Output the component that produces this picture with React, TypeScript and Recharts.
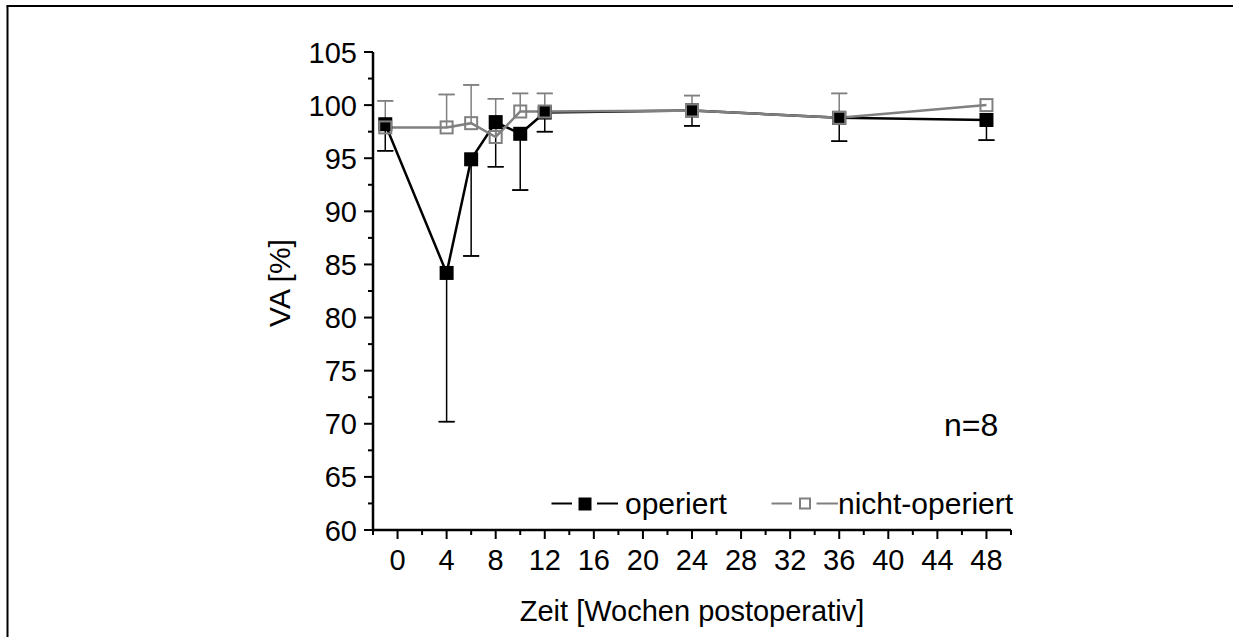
import React from 'react';
import { LineChart, Line, XAxis, YAxis, ErrorBar } from 'recharts';

const weeks = [-1, 4, 6, 8, 10, 12, 24, 36, 48];
const operiert = [98.2, 84.2, 94.9, 98.4, 97.3, 99.3, 99.5, 98.8, 98.6];
const operiertSD = [2.5, 14.0, 9.1, 4.2, 5.3, 1.8, 1.45, 2.2, 1.9];
const nichtOperiert = [97.9, 97.9, 98.3, 97.0, 99.4, 99.4, 99.5, 98.8, 100.0];
const nichtOperiertSD = [2.5, 3.1, 3.6, 3.6, 1.7, 1.7, 1.4, 2.3, 0];

const xTicks = [-2, 0, 2, 4, 6, 8, 10, 12, 14, 16, 18, 20, 22, 24, 26, 28, 30, 32, 34, 36, 38, 40, 42, 44, 46, 48, 50];
const yTicks = [60, 62.5, 65, 67.5, 70, 72.5, 75, 77.5, 80, 82.5, 85, 87.5, 90, 92.5, 95, 97.5, 100, 102.5, 105];

const seriesNames = ['operiert', 'nicht-operiert'];
const xTitle = 'Zeit [Wochen postoperativ]';
const yTitle = 'VA [%]';
const note = 'n=8';

const FONT = '"Liberation Sans", Arial, Helvetica, sans-serif';
const GRAY = '#808080';

const data = weeks.map((w, i) => ({
  week: w,
  op: operiert[i],
  opErr: [operiertSD[i], 0],
  opLow: operiert[i] - operiertSD[i],
  opCap: [0, 0],
  nop: nichtOperiert[i],
  nopErr: nichtOperiertSD[i] > 0 ? [0, nichtOperiertSD[i]] : null,
  nopHigh: nichtOperiert[i] + nichtOperiertSD[i],
  nopCap: nichtOperiertSD[i] > 0 ? [0, 0] : null,
}));

const XTick = (props: any) => {
  const { x, y, payload } = props;
  const v = payload.value;
  const major = v % 4 === 0;
  return (
    <g>
      <line x1={x} x2={x} y1={y} y2={y + (major ? 9 : 5)} stroke="#000" strokeWidth={2} />
      {major && (
        <text x={x} y={y + 40} textAnchor="middle" fontSize={29} fontFamily={FONT} fill="#000">
          {v}
        </text>
      )}
    </g>
  );
};

const YTick = (props: any) => {
  const { x, y, payload } = props;
  const v = payload.value;
  const major = v % 5 === 0;
  return (
    <g>
      <line x1={x} x2={x - (major ? 9 : 5)} y1={y} y2={y} stroke="#000" strokeWidth={2} />
      {major && (
        <text x={x - 16} y={y + 10.5} textAnchor="end" fontSize={29} fontFamily={FONT} fill="#000">
          {v}
        </text>
      )}
    </g>
  );
};

const blackDot = (props: any) => {
  const { cx, cy, index } = props;
  if (cx == null || cy == null) return <g key={'b' + index} />;
  return <rect key={'b' + index} x={cx - 7} y={cy - 7} width={14} height={14} fill="#000" />;
};

const grayDot = (props: any) => {
  const { cx, cy, index } = props;
  if (cx == null || cy == null) return <g key={'g' + index} />;
  return (
    <rect key={'g' + index} x={cx - 6} y={cy - 6} width={12} height={12} fill="none" stroke={GRAY} strokeWidth={2} />
  );
};

export default function App() {
  return (
    <div style={{ position: 'relative', width: 1233, height: 637, background: '#fff' }}>
      <style>{'body{margin:0;overflow:hidden;background:#fff}'}</style>
      <LineChart
        width={1233}
        height={637}
        data={data}
        margin={{ top: 52, right: 222, bottom: 47, left: 273 }}
      >
        <XAxis
          dataKey="week"
          type="number"
          domain={[-2, 50]}
          ticks={xTicks}
          interval={0}
          allowDataOverflow
          tickSize={0}
          tickMargin={0}
          tickLine={false}
          tick={(p: any) => <XTick {...p} />}
          axisLine={{ stroke: '#000', strokeWidth: 2.5 }}
          height={60}
        />
        <YAxis
          type="number"
          domain={[60, 105]}
          ticks={yTicks}
          interval={0}
          allowDataOverflow
          tickSize={0}
          tickMargin={0}
          tickLine={false}
          tick={(p: any) => <YTick {...p} />}
          axisLine={{ stroke: '#000', strokeWidth: 2.5 }}
          width={100}
        />
        <Line
          dataKey="op"
          type="linear"
          stroke="#000"
          strokeWidth={2.5}
          dot={blackDot}
          activeDot={false}
          isAnimationActive={false}
        >
          <ErrorBar dataKey="opErr" direction="y" width={0} stroke="#000" strokeWidth={1.5} />
        </Line>
        <Line
          dataKey="opLow"
          type="linear"
          stroke="none"
          dot={false}
          activeDot={false}
          isAnimationActive={false}
        >
          <ErrorBar dataKey="opCap" direction="y" width={8} stroke="#000" strokeWidth={1.5} />
        </Line>
        <Line
          dataKey="nop"
          type="linear"
          stroke={GRAY}
          strokeWidth={2.5}
          dot={grayDot}
          activeDot={false}
          isAnimationActive={false}
        >
          <ErrorBar dataKey="nopErr" direction="y" width={0} stroke={GRAY} strokeWidth={1.5} />
        </Line>
        <Line
          dataKey="nopHigh"
          type="linear"
          stroke="none"
          dot={false}
          activeDot={false}
          isAnimationActive={false}
        >
          <ErrorBar dataKey="nopCap" direction="y" width={8} stroke={GRAY} strokeWidth={1.5} />
        </Line>
      </LineChart>
      <svg
        width={1233}
        height={637}
        style={{ position: 'absolute', left: 0, top: 0, pointerEvents: 'none' }}
      >
        <line x1={7.5} y1={6} x2={7.5} y2={637} stroke="#000" strokeWidth={2} />
        <line x1={6.5} y1={6} x2={1233} y2={6} stroke="#000" strokeWidth={2} />
        <text
          transform="translate(290,283) rotate(-90)"
          textAnchor="middle"
          fontSize={30}
          fontFamily={FONT}
          fill="#000"
        >
          {yTitle}
        </text>
        <text x={692} y={621} textAnchor="middle" fontSize={29} fontFamily={FONT} fill="#000">
          {xTitle}
        </text>
        <text x={944} y={436} fontSize={32} fontFamily={FONT} fill="#000">
          {note}
        </text>
        <line x1={551.5} x2={572} y1={503.5} y2={503.5} stroke="#000" strokeWidth={2} />
        <rect x={578.5} y={497.5} width={13} height={13} fill="#000" />
        <line x1={597} x2={618} y1={503.5} y2={503.5} stroke="#000" strokeWidth={2} />
        <text x={625} y={514} fontSize={30} fontFamily={FONT} fill="#000">
          {seriesNames[0]}
        </text>
        <line x1={771.5} x2={792} y1={503.5} y2={503.5} stroke={GRAY} strokeWidth={2} />
        <rect x={800} y={498.5} width={10} height={10} fill="none" stroke={GRAY} strokeWidth={2} />
        <line x1={816.5} x2={838} y1={503.5} y2={503.5} stroke={GRAY} strokeWidth={2} />
        <text x={838} y={514} fontSize={30} fontFamily={FONT} fill="#000">
          {seriesNames[1]}
        </text>
      </svg>
    </div>
  );
}
